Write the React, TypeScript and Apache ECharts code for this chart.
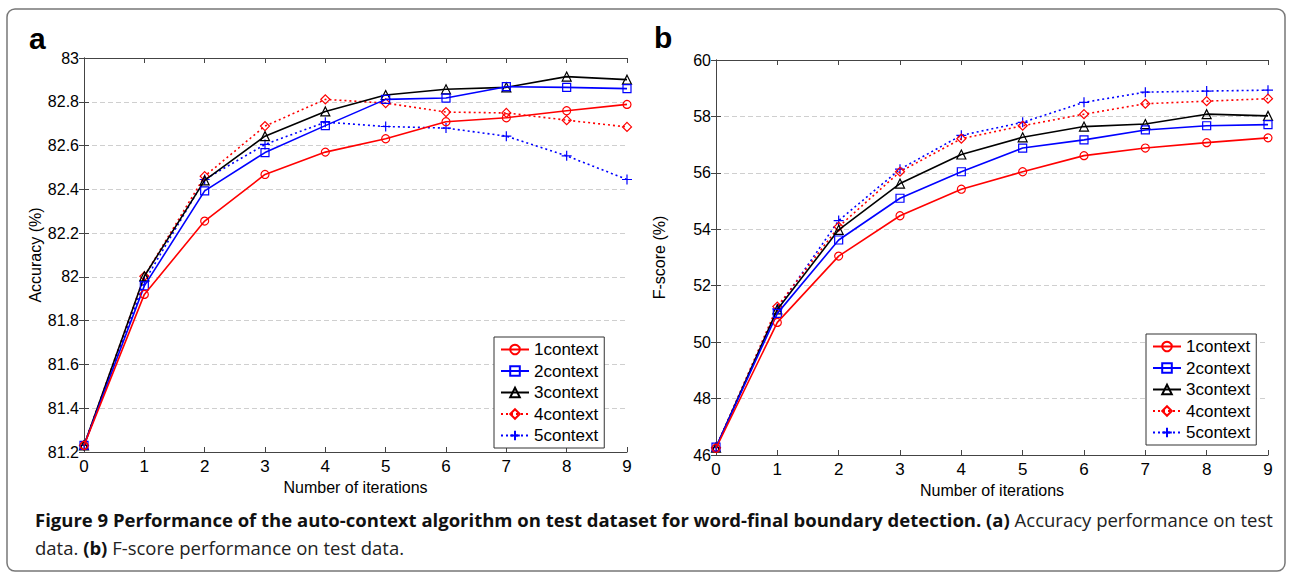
import React, { useEffect, useRef } from "react";
import * as echarts from "echarts";

const iterations = [0, 1, 2, 3, 4, 5, 6, 7, 8, 9];
const seriesNames = ["1context", "2context", "3context", "4context", "5context"];

const accuracy1 = [81.23, 81.92, 82.255, 82.468, 82.57, 82.631, 82.709, 82.727, 82.759, 82.788];
const accuracy2 = [81.23, 81.959, 82.393, 82.568, 82.691, 82.811, 82.817, 82.869, 82.866, 82.86];
const accuracy3 = [81.23, 82.003, 82.441, 82.643, 82.756, 82.831, 82.857, 82.866, 82.915, 82.901];
const accuracy4 = [81.23, 82.003, 82.46, 82.689, 82.811, 82.794, 82.753, 82.749, 82.716, 82.685];
const accuracy5 = [81.23, 81.979, 82.445, 82.605, 82.707, 82.687, 82.68, 82.643, 82.553, 82.445];

const fscore1 = [46.24, 50.7, 53.05, 54.48, 55.42, 56.04, 56.61, 56.88, 57.07, 57.24];
const fscore2 = [46.28, 51.02, 53.62, 55.1, 56.04, 56.88, 57.17, 57.52, 57.67, 57.71];
const fscore3 = [46.26, 51.16, 53.98, 55.62, 56.65, 57.26, 57.64, 57.73, 58.08, 58.02];
const fscore4 = [46.26, 51.26, 54.09, 56.04, 57.21, 57.67, 58.08, 58.45, 58.54, 58.63];
const fscore5 = [46.26, 51.18, 54.31, 56.13, 57.33, 57.79, 58.5, 58.86, 58.9, 58.93];

const accuracyTicks = { min: 81.2, max: 83, interval: 0.2 };
const fscoreTicks = { min: 46, max: 60, interval: 2 };

const captionBold = "Figure 9 Performance of the auto-context algorithm on test dataset for word-final boundary detection. (a)";
const captionRest1 = " Accuracy performance on test";
const captionLine2a = "data. ";
const captionLine2b = "(b)";
const captionLine2c = " F-score performance on test data.";

const FONT = "'Liberation Sans', Arial, sans-serif";
const PLUS = "path://M5,0 L5,10 M0,5 L10,5";

const styles = [
  { color: "#ff0000", symbol: "circle", size: 8, dash: "solid" as any },
  { color: "#0000ff", symbol: "rect", size: 8, dash: "solid" as any },
  { color: "#000000", symbol: "triangle", size: 9, dash: "solid" as any },
  { color: "#ff0000", symbol: "diamond", size: 9, dash: [2, 3] as any },
  { color: "#0000ff", symbol: PLUS, size: 10, dash: [2, 3] as any },
];

function makeSeries(data: number[][], gridIdx: number) {
  return data.map((vals, i) => ({
    name: seriesNames[i],
    type: "line",
    xAxisIndex: gridIdx * 2,
    yAxisIndex: gridIdx * 2,
    data: vals.map((v, k) => [iterations[k], v]),
    symbol: styles[i].symbol,
    symbolSize: styles[i].size,
    showSymbol: true,
    clip: false,
    lineStyle: { color: styles[i].color, width: 1.6, type: styles[i].dash },
    itemStyle: { color: "none", borderColor: styles[i].color, borderWidth: 1.2 },
    z: 10 - i,
  }));
}

function axesFor(gridIdx: number, ticks: { min: number; max: number; interval: number }, yName: string, yGap: number, xGap: number) {
  const axisLine = { show: true, lineStyle: { color: "#444", width: 1 } };
  const tick = { show: true, inside: true, length: 5, lineStyle: { color: "#444" } };
  const x = [
    {
      type: "value", gridIndex: gridIdx, position: "bottom", min: 0, max: 9, interval: 1,
      axisLine, axisTick: tick,
      axisLabel: { color: "#000", fontSize: 17, fontFamily: FONT, margin: 6 },
      splitLine: { show: false },
      name: "Number of iterations", nameLocation: "middle", nameGap: xGap,
      nameTextStyle: { color: "#000", fontSize: 16, fontFamily: FONT },
    },
    {
      type: "value", gridIndex: gridIdx, position: "top", min: 0, max: 9, interval: 1,
      axisLine, axisTick: tick, axisLabel: { show: false }, splitLine: { show: false },
    },
  ];
  const y = [
    {
      type: "value", gridIndex: gridIdx, position: "left", min: ticks.min, max: ticks.max, interval: ticks.interval,
      axisLine, axisTick: tick,
      axisLabel: { color: "#000", fontSize: 16, fontFamily: FONT, margin: 5 },
      splitLine: { show: true, lineStyle: { color: "#cfcfcf", type: [5, 3], width: 1 } },
      name: yName, nameLocation: "middle", nameGap: yGap, nameRotate: 90,
      nameTextStyle: { color: "#000", fontSize: 16, fontFamily: FONT },
    },
    {
      type: "value", gridIndex: gridIdx, position: "right", min: ticks.min, max: ticks.max, interval: ticks.interval,
      axisLine, axisTick: tick, axisLabel: { show: false }, splitLine: { show: false },
    },
  ];
  return { x, y };
}

function legendFor(left: number, top: number) {
  return {
    orient: "vertical",
    left, top,
    data: seriesNames,
    itemWidth: 28,
    itemHeight: 12,
    itemGap: 4.5,
    padding: [4, 6, 4, 6],
    borderColor: "#333",
    borderWidth: 1,
    backgroundColor: "#fff",
    textStyle: { color: "#000", fontSize: 17, lineHeight: 17, fontFamily: FONT },
    selectedMode: false,
  };
}

export default function App() {
  const ref = useRef<HTMLDivElement>(null);
  useEffect(() => {
    if (!ref.current) return;
    const chart = echarts.init(ref.current, null, { renderer: "svg" });
    const a = axesFor(0, accuracyTicks, "Accuracy (%)", 37, 18);
    const b = axesFor(1, fscoreTicks, "F-score (%)", 49, 21);
    const rich = {
      b: { fontFamily: "'Open Sans', sans-serif", fontWeight: "bold", fontSize: 18.5, fill: "#111" },
      r: { fontFamily: "'Open Sans', sans-serif", fontSize: 18.5, fill: "#222" },
    };
    chart.setOption({
      animation: false,
      backgroundColor: "#fff",
      grid: [
        { left: 84, top: 58, width: 543, height: 394 },
        { left: 716, top: 60, width: 552, height: 395 },
      ],
      xAxis: [...a.x, ...b.x],
      yAxis: [...a.y, ...b.y],
      legend: [legendFor(494, 337), legendFor(1146, 334)],
      series: [
        ...makeSeries([accuracy1, accuracy2, accuracy3, accuracy4, accuracy5], 0),
        ...makeSeries([fscore1, fscore2, fscore3, fscore4, fscore5], 1),
      ],
      graphic: [
        {
          type: "rect", z: -1, silent: true,
          shape: { x: 7, y: 9, width: 1278, height: 562, r: 8 },
          style: { fill: "none", stroke: "#777", lineWidth: 1.5 },
        },
        {
          type: "text", left: 29, top: 23,
          style: { text: "a", font: "bold 30px 'Liberation Sans', Arial, sans-serif", fill: "#000" },
        },
        {
          type: "text", left: 654, top: 22,
          style: { text: "b", font: "bold 30px 'Liberation Sans', Arial, sans-serif", fill: "#000" },
        },
        {
          type: "text", left: 35, top: 510,
          style: { text: "{b|" + captionBold + "}{r|" + captionRest1 + "}", rich },
        },
        {
          type: "text", left: 35, top: 538,
          style: { text: "{r|" + captionLine2a + "}{b|" + captionLine2b + "}{r|" + captionLine2c + "}", rich },
        },
      ],
    });
    return () => chart.dispose();
  }, []);
  return (
    <div
      ref={ref}
      style={{ position: "fixed", left: 0, top: 0, width: 1291, height: 572, background: "#fff" }}
    />
  );
}
